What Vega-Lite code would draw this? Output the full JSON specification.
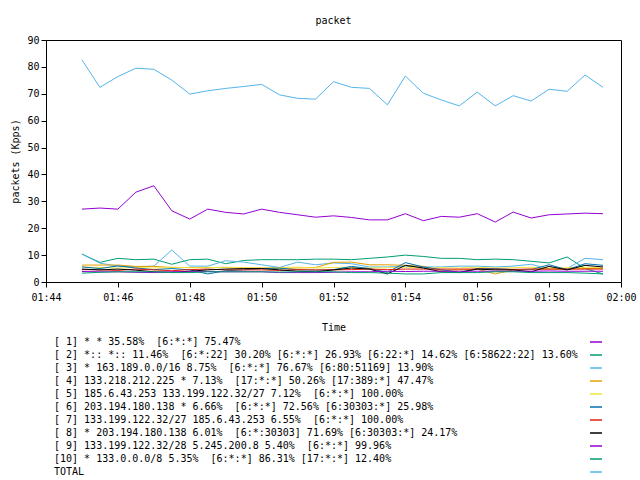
{
  "$schema": "https://vega.github.io/schema/vega-lite/v6.json",
  "autosize": {"type": "none"},
  "padding": {"left": 46, "top": 40, "right": 19, "bottom": 198},
  "width": 575,
  "height": 242,
  "background": "white",
  "title": {"text": "packet", "font": "DejaVu Sans Mono", "fontSize": 10, "fontWeight": "normal", "color": "black", "offset": 9},
  "config": {
    "view": {"stroke": "black", "strokeWidth": 1},
    "axis": {"domain": false, "grid": false, "tickColor": "black", "labelColor": "black", "titleColor": "black", "labelFont": "DejaVu Sans Mono", "titleFont": "DejaVu Sans Mono", "labelFontSize": 10, "titleFontSize": 10, "titleFontWeight": "normal"}
  },
  "data": {"values": [
    {"t": "2024-04-14T01:45:00", "s1": 27.1, "s2": 10.4, "s3": 10.4, "s4": 6.3, "s5": 5.6, "s6": 5.6, "s7": 4.6, "s8": 4.8, "s9": 3.9, "s10": 3.3, "s11": 82.6},
    {"t": "2024-04-14T01:45:30", "s1": 27.5, "s2": 7.3, "s3": 7.0, "s4": 6.3, "s5": 5.4, "s6": 5.0, "s7": 4.5, "s8": 4.5, "s9": 3.8, "s10": 3.6, "s11": 72.4},
    {"t": "2024-04-14T01:46:00", "s1": 27.1, "s2": 8.8, "s3": 5.9, "s4": 6.3, "s5": 5.2, "s6": 6.0, "s7": 4.3, "s8": 4.8, "s9": 3.8, "s10": 3.8, "s11": 76.4},
    {"t": "2024-04-14T01:46:30", "s1": 33.4, "s2": 8.3, "s3": 5.7, "s4": 5.8, "s5": 5.4, "s6": 5.2, "s7": 4.8, "s8": 4.4, "s9": 3.6, "s10": 3.8, "s11": 79.5},
    {"t": "2024-04-14T01:47:00", "s1": 35.8, "s2": 8.5, "s3": 5.9, "s4": 5.8, "s5": 5.2, "s6": 4.6, "s7": 4.5, "s8": 3.8, "s9": 3.5, "s10": 3.8, "s11": 79.1},
    {"t": "2024-04-14T01:47:30", "s1": 26.5, "s2": 6.6, "s3": 11.9, "s4": 5.4, "s5": 5.5, "s6": 5.0, "s7": 4.2, "s8": 3.6, "s9": 3.8, "s10": 3.5, "s11": 75.1},
    {"t": "2024-04-14T01:48:00", "s1": 23.4, "s2": 8.3, "s3": 5.9, "s4": 5.4, "s5": 5.3, "s6": 4.5, "s7": 4.6, "s8": 4.0, "s9": 3.8, "s10": 3.5, "s11": 69.9},
    {"t": "2024-04-14T01:48:30", "s1": 27.1, "s2": 8.5, "s3": 5.9, "s4": 5.4, "s5": 5.3, "s6": 3.0, "s7": 4.8, "s8": 4.5, "s9": 3.9, "s10": 3.8, "s11": 71.1},
    {"t": "2024-04-14T01:49:00", "s1": 25.9, "s2": 6.8, "s3": 7.9, "s4": 5.4, "s5": 5.5, "s6": 4.2, "s7": 4.5, "s8": 4.8, "s9": 3.8, "s10": 3.8, "s11": 72.0},
    {"t": "2024-04-14T01:49:30", "s1": 25.3, "s2": 8.0, "s3": 7.4, "s4": 5.2, "s5": 5.3, "s6": 4.5, "s7": 4.5, "s8": 5.0, "s9": 3.8, "s10": 3.8, "s11": 72.7},
    {"t": "2024-04-14T01:50:00", "s1": 27.1, "s2": 8.3, "s3": 6.4, "s4": 5.2, "s5": 5.2, "s6": 5.0, "s7": 4.5, "s8": 5.0, "s9": 3.8, "s10": 3.8, "s11": 73.5},
    {"t": "2024-04-14T01:50:30", "s1": 25.9, "s2": 8.3, "s3": 5.4, "s4": 5.0, "s5": 5.4, "s6": 5.2, "s7": 4.3, "s8": 4.5, "s9": 3.5, "s10": 3.7, "s11": 69.6},
    {"t": "2024-04-14T01:51:00", "s1": 25.0, "s2": 8.3, "s3": 7.4, "s4": 5.2, "s5": 5.5, "s6": 4.5, "s7": 4.6, "s8": 4.0, "s9": 3.5, "s10": 3.8, "s11": 68.3},
    {"t": "2024-04-14T01:51:30", "s1": 24.1, "s2": 8.5, "s3": 6.4, "s4": 5.4, "s5": 5.2, "s6": 4.4, "s7": 4.5, "s8": 3.8, "s9": 3.5, "s10": 3.8, "s11": 68.0},
    {"t": "2024-04-14T01:52:00", "s1": 24.6, "s2": 8.5, "s3": 7.1, "s4": 7.3, "s5": 5.4, "s6": 4.6, "s7": 4.5, "s8": 4.5, "s9": 3.6, "s10": 3.8, "s11": 74.5},
    {"t": "2024-04-14T01:52:30", "s1": 24.0, "s2": 8.3, "s3": 6.8, "s4": 7.4, "s5": 5.5, "s6": 5.8, "s7": 4.6, "s8": 5.2, "s9": 3.8, "s10": 3.5, "s11": 72.4},
    {"t": "2024-04-14T01:53:00", "s1": 23.1, "s2": 8.8, "s3": 5.6, "s4": 6.4, "s5": 5.2, "s6": 5.0, "s7": 4.8, "s8": 4.8, "s9": 3.8, "s10": 3.5, "s11": 72.0},
    {"t": "2024-04-14T01:53:30", "s1": 23.1, "s2": 9.3, "s3": 5.6, "s4": 6.4, "s5": 5.3, "s6": 3.6, "s7": 4.6, "s8": 3.0, "s9": 4.0, "s10": 3.3, "s11": 65.9},
    {"t": "2024-04-14T01:54:00", "s1": 25.4, "s2": 10.0, "s3": 5.8, "s4": 6.2, "s5": 5.5, "s6": 7.2, "s7": 4.8, "s8": 6.2, "s9": 3.9, "s10": 3.0, "s11": 76.6},
    {"t": "2024-04-14T01:54:30", "s1": 22.8, "s2": 9.5, "s3": 5.6, "s4": 5.8, "s5": 5.2, "s6": 5.6, "s7": 4.8, "s8": 5.2, "s9": 4.0, "s10": 3.0, "s11": 70.2},
    {"t": "2024-04-14T01:55:00", "s1": 24.4, "s2": 8.8, "s3": 5.6, "s4": 4.3, "s5": 5.3, "s6": 4.6, "s7": 4.8, "s8": 3.8, "s9": 4.0, "s10": 3.5, "s11": 67.7},
    {"t": "2024-04-14T01:55:30", "s1": 24.1, "s2": 8.8, "s3": 5.9, "s4": 4.5, "s5": 5.2, "s6": 3.6, "s7": 4.8, "s8": 3.5, "s9": 4.0, "s10": 3.5, "s11": 65.5},
    {"t": "2024-04-14T01:56:00", "s1": 25.4, "s2": 8.3, "s3": 5.9, "s4": 4.8, "s5": 5.5, "s6": 5.0, "s7": 4.8, "s8": 4.8, "s9": 4.0, "s10": 3.5, "s11": 70.6},
    {"t": "2024-04-14T01:56:30", "s1": 22.3, "s2": 8.5, "s3": 5.6, "s4": 3.0, "s5": 5.2, "s6": 5.0, "s7": 4.8, "s8": 4.5, "s9": 4.0, "s10": 3.8, "s11": 65.5},
    {"t": "2024-04-14T01:57:00", "s1": 26.0, "s2": 8.3, "s3": 5.9, "s4": 4.5, "s5": 5.3, "s6": 4.6, "s7": 4.7, "s8": 4.5, "s9": 4.0, "s10": 3.8, "s11": 69.3},
    {"t": "2024-04-14T01:57:30", "s1": 23.8, "s2": 7.7, "s3": 6.6, "s4": 4.8, "s5": 5.5, "s6": 4.6, "s7": 4.8, "s8": 3.8, "s9": 4.0, "s10": 3.5, "s11": 67.3},
    {"t": "2024-04-14T01:58:00", "s1": 25.0, "s2": 7.1, "s3": 4.8, "s4": 4.8, "s5": 5.2, "s6": 6.4, "s7": 4.8, "s8": 5.8, "s9": 4.1, "s10": 3.5, "s11": 71.7},
    {"t": "2024-04-14T01:58:30", "s1": 25.3, "s2": 9.3, "s3": 5.0, "s4": 4.8, "s5": 5.3, "s6": 4.6, "s7": 4.8, "s8": 4.5, "s9": 4.0, "s10": 3.5, "s11": 70.9},
    {"t": "2024-04-14T01:59:00", "s1": 25.6, "s2": 5.0, "s3": 8.8, "s4": 5.0, "s5": 5.5, "s6": 6.8, "s7": 4.8, "s8": 6.2, "s9": 4.0, "s10": 3.3, "s11": 77.0},
    {"t": "2024-04-14T01:59:30", "s1": 25.4, "s2": 3.0, "s3": 8.3, "s4": 5.0, "s5": 5.3, "s6": 6.2, "s7": 4.8, "s8": 5.6, "s9": 4.0, "s10": 3.0, "s11": 72.4}
  ]},
  "transform": [
    {"fold": ["s1", "s2", "s3", "s4", "s5", "s6", "s7", "s8", "s9", "s10", "s11"], "as": ["key", "value"]}
  ],
  "mark": {"type": "line", "strokeWidth": 1},
  "encoding": {
    "x": {
      "field": "t", "type": "temporal",
      "scale": {"domain": [{"year": 2024, "month": 4, "date": 14, "hours": 1, "minutes": 44}, {"year": 2024, "month": 4, "date": 14, "hours": 2, "minutes": 0}]},
      "axis": {
        "title": "Time", "format": "%H:%M", "labelFlush": false, "labelPadding": 5, "titlePadding": 20,
        "values": [
          {"year": 2024, "month": 4, "date": 14, "hours": 1, "minutes": 44},
          {"year": 2024, "month": 4, "date": 14, "hours": 1, "minutes": 46},
          {"year": 2024, "month": 4, "date": 14, "hours": 1, "minutes": 48},
          {"year": 2024, "month": 4, "date": 14, "hours": 1, "minutes": 50},
          {"year": 2024, "month": 4, "date": 14, "hours": 1, "minutes": 52},
          {"year": 2024, "month": 4, "date": 14, "hours": 1, "minutes": 54},
          {"year": 2024, "month": 4, "date": 14, "hours": 1, "minutes": 56},
          {"year": 2024, "month": 4, "date": 14, "hours": 1, "minutes": 58},
          {"year": 2024, "month": 4, "date": 14, "hours": 2, "minutes": 0}
        ]
      }
    },
    "y": {
      "field": "value", "type": "quantitative",
      "scale": {"domain": [0, 90], "nice": false},
      "axis": {"title": "packets (Kpps)", "values": [0, 10, 20, 30, 40, 50, 60, 70, 80, 90], "titlePadding": 6}
    },
    "color": {
      "field": "key", "type": "nominal",
      "scale": {
        "domain": ["s1", "s2", "s3", "s4", "s5", "s6", "s7", "s8", "s9", "s10", "s11"],
        "range": ["#9400D3", "#009E73", "#56B4E9", "#E69F00", "#F0E442", "#0072B2", "#E51E10", "#000000", "#9400D3", "#009E73", "#56B4E9"]
      },
      "legend": {
        "orient": "none", "legendX": 543, "legendY": 295, "direction": "vertical", "title": null,
        "symbolType": "stroke", "symbolSize": 144, "symbolStrokeWidth": 1.5,
        "rowPadding": 1, "padding": 0,
        "labelOffset": -549, "labelAlign": "left", "labelLimit": 0,
        "labelFont": "DejaVu Sans Mono", "labelFontSize": 10, "labelColor": "black",
        "labelExpr": "datum.label === 's1' ? '[ 1] * * 35.58% \u00a0[6:*:*] 75.47%' : datum.label === 's2' ? '[ 2] *:: *:: 11.46% \u00a0[6:*:22] 30.20% [6:*:*] 26.93% [6:22:*] 14.62% [6:58622:22] 13.60%' : datum.label === 's3' ? '[ 3] * 163.189.0.0/16 8.75% \u00a0[6:*:*] 76.67% [6:80:51169] 13.90%' : datum.label === 's4' ? '[ 4] 133.218.212.225 * 7.13% \u00a0[17:*:*] 50.26% [17:389:*] 47.47%' : datum.label === 's5' ? '[ 5] 185.6.43.253 133.199.122.32/27 7.12% \u00a0[6:*:*] 100.00%' : datum.label === 's6' ? '[ 6] 203.194.180.138 * 6.66% \u00a0[6:*:*] 72.56% [6:30303:*] 25.98%' : datum.label === 's7' ? '[ 7] 133.199.122.32/27 185.6.43.253 6.55% \u00a0[6:*:*] 100.00%' : datum.label === 's8' ? '[ 8] * 203.194.180.138 6.01% \u00a0[6:*:30303] 71.69% [6:30303:*] 24.17%' : datum.label === 's9' ? '[ 9] 133.199.122.32/28 5.245.200.8 5.40% \u00a0[6:*:*] 99.96%' : datum.label === 's10' ? '[10] * 133.0.0.0/8 5.35% \u00a0[6:*:*] 86.31% [17:*:*] 12.40%' : 'TOTAL'"
      }
    }
  }
}
